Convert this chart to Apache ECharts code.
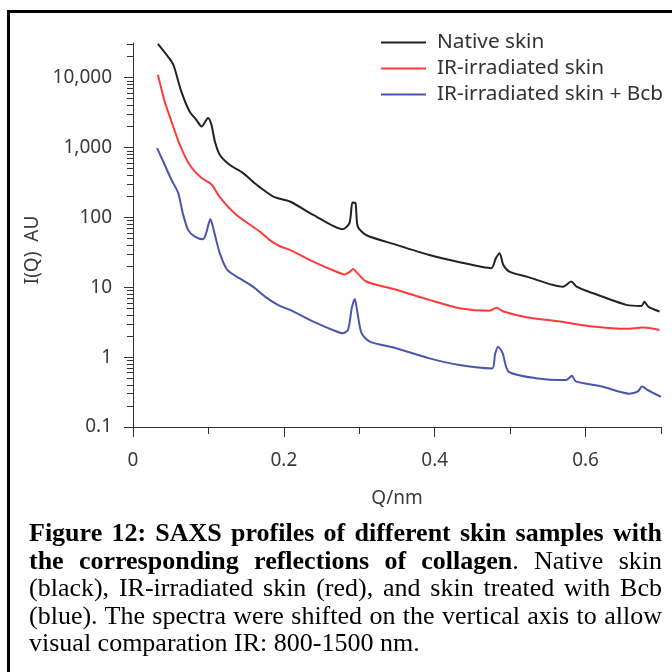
<!DOCTYPE html>
<html>
<head>
<meta charset="utf-8">
<script src="https://cdn.jsdelivr.net/npm/echarts@6/dist/echarts.min.js"></script>
<style>
  html, body { margin: 0; padding: 0; background: #fff; width: 672px; height: 672px; overflow: hidden; }
  #frame { position: absolute; left: 7px; top: 10px; width: 720px; height: 720px;
           border-top: 3px solid #000; border-left: 3px solid #000; }
  #chart { position: absolute; left: 0; top: 0; width: 672px; height: 672px; }
  #caption { position: absolute; left: 29px; top: 519px; width: 633px;
             font-family: "Liberation Serif", "Times New Roman", serif;
             font-size: 26px; line-height: 27.5px; color: #000; }
  #caption div { white-space: nowrap; }
  #caption .j { text-align: justify; text-align-last: justify; }
</style>
</head>
<body>
<div id="frame"></div>
<div id="chart"></div>
<div id="caption">
  <div class="j"><b>Figure 12: SAXS profiles of different skin samples with</b></div>
  <div class="j"><b>the corresponding reflections of collagen</b>. Native skin</div>
  <div class="j">(black), IR-irradiated skin (red), and skin treated with Bcb</div>
  <div class="j">(blue). The spectra were shifted on the vertical axis to allow</div>
  <div>visual comparation IR: 800-1500 nm.</div>
</div>
<script>
// Scattering vector Q (1/nm) and intensity I(Q) for each skin sample
const qNative = [0.033, 0.051, 0.055, 0.064, 0.075, 0.084, 0.091, 0.0995, 0.104, 0.1086, 0.115, 0.128, 0.146, 0.164, 0.186,
                 0.208, 0.239, 0.278, 0.287, 0.291, 0.295, 0.298, 0.309, 0.349, 0.393, 0.433, 0.475, 0.481, 0.486, 0.491,
                 0.499, 0.522, 0.570, 0.581, 0.588, 0.610, 0.654, 0.674, 0.678, 0.683, 0.698];
const iNative = [30400, 17100, 13800, 6370, 3290, 2500, 2000, 2650, 2120, 1220, 789, 567, 431, 293, 199,
                 169, 109, 68, 83, 163, 160, 74, 56, 40.5, 29, 22.9, 18.8, 26, 30.8, 20.9,
                 16.8, 14.2, 10.2, 12.1, 10.2, 8.2, 5.6, 5.4, 6.2, 5.3, 4.5];

const qIR = [0.033, 0.042, 0.051, 0.062, 0.075, 0.091, 0.102, 0.106, 0.115, 0.137, 0.168, 0.181, 0.194, 0.208, 0.239,
             0.269, 0.281, 0.287, 0.292, 0.297, 0.309, 0.349, 0.393, 0.433, 0.473, 0.482, 0.491, 0.522, 0.566,
             0.610, 0.654, 0.676, 0.698];
const iIR = [11000, 4570, 2360, 1100, 567, 366, 310, 280, 195, 109, 62.8, 47.8, 39, 34.3, 23.3,
             16.8, 15.3, 16.5, 18.2, 16.2, 12.1, 9.2, 6.6, 5.0, 4.6, 5.1, 4.5, 3.73, 3.23,
             2.74, 2.54, 2.65, 2.45];

const qBcb = [0.032, 0.042, 0.051, 0.060, 0.066, 0.073, 0.082, 0.093, 0.097, 0.1026, 0.108, 0.115, 0.125, 0.141, 0.159,
              0.175, 0.192, 0.208, 0.239, 0.269, 0.278, 0.285, 0.290, 0.294, 0.297, 0.303, 0.314, 0.349, 0.393,
              0.433, 0.476, 0.480, 0.484, 0.490, 0.498, 0.534, 0.574, 0.582, 0.587, 0.622, 0.658, 0.669, 0.675,
              0.682, 0.700];
const iBcb = [984, 567, 346, 223, 115, 66.4, 53.2, 48.9, 59.6, 94.6, 59.6, 30.8, 17.7, 13.5, 10.2,
              7.36, 5.6, 4.74, 3.23, 2.35, 2.2, 2.45, 5.0, 6.8, 4.74, 2.2, 1.67, 1.34, 0.96,
              0.77, 0.69, 1.1, 1.41, 1.14, 0.62, 0.50, 0.47, 0.54, 0.45, 0.38, 0.30, 0.32, 0.38,
              0.34, 0.27];

const seriesNames = ['Native skin', 'IR-irradiated skin', 'IR-irradiated skin + Bcb'];
const seriesColors = ['#222222', '#ff3a3a', '#4a56ae'];

// Axis ticks and labels
const xMajorTicks = [0, 0.2, 0.4, 0.6];
const xMinorTicks = [0.1, 0.3, 0.5, 0.7];
const yMajorTicks = [0.1, 1, 10, 100, 1000, 10000];
const yMin = 0.1;
const yMax = 31400;
const yMinorTicks = [];
yMajorTicks.forEach(d => {
  for (let k = 2; k <= 9; k++) {
    const v = +(d * k).toPrecision(3);
    if (v <= yMax) yMinorTicks.push(v);
  }
});

const pairs = (xs, ys) => xs.map((x, i) => [x, ys[i]]);

const axisFont = '"Noto Sans", "Open Sans", sans-serif';
const axisColor = '#3a3a3a';
const lineColor = '#333';

const fmtY = v => {
  if (v >= 1) return Math.round(v).toLocaleString('en-US');
  return String(+v.toPrecision(2));
};

const chart = echarts.init(document.getElementById('chart'), null, { renderer: 'canvas' });
chart.setOption({
  animation: false,
  backgroundColor: 'transparent',
  grid: { left: 133, top: 43, right: 11, bottom: 245, containLabel: false },
  legend: {
    orient: 'vertical',
    left: 376,
    top: 27,
    icon: 'rect',
    itemWidth: 45,
    itemHeight: 2,
    itemGap: 5,
    data: seriesNames,
    textStyle: { fontFamily: axisFont, fontSize: 20.8, color: '#333', padding: [0, 0, 0, 6] }
  },
  xAxis: [
    {
      type: 'value', position: 'bottom', min: 0, max: 0.7,
      axisLine: { show: true, lineStyle: { color: lineColor, width: 1 } },
      axisTick: { show: true, customValues: xMajorTicks, length: 10, lineStyle: { color: lineColor, width: 1 } },
      axisLabel: { customValues: xMajorTicks, margin: 24, fontFamily: axisFont, fontSize: 19, color: axisColor,
                   formatter: v => String(+v.toFixed(1)) },
      splitLine: { show: false },
      name: 'Q/nm', nameLocation: 'middle', nameGap: 62,
      nameTextStyle: { fontFamily: axisFont, fontSize: 19, color: axisColor }
    },
    {
      type: 'value', position: 'bottom', min: 0, max: 0.7,
      axisLine: { show: false },
      axisTick: { show: true, customValues: xMinorTicks, length: 7, lineStyle: { color: lineColor, width: 1 } },
      axisLabel: { show: false },
      splitLine: { show: false }
    }
  ],
  yAxis: [
    {
      type: 'log', logBase: 10, position: 'left', min: yMin, max: yMax,
      axisLine: { show: true, lineStyle: { color: lineColor, width: 1 } },
      axisTick: { show: true, customValues: yMajorTicks, length: 9, lineStyle: { color: lineColor, width: 1 } },
      axisLabel: { customValues: yMajorTicks, margin: 21, fontFamily: axisFont, fontSize: 19, color: axisColor,
                   formatter: fmtY },
      splitLine: { show: false },
      name: 'I(Q)  AU', nameLocation: 'middle', nameGap: 91, nameRotate: 90,
      nameTextStyle: { fontFamily: axisFont, fontSize: 19, color: axisColor, padding: [0, 30, 0, 0] }
    },
    {
      type: 'log', logBase: 10, position: 'left', min: yMin, max: yMax,
      axisLine: { show: false },
      axisTick: { show: true, customValues: yMinorTicks, length: 6, lineStyle: { color: lineColor, width: 1 } },
      axisLabel: { show: false },
      splitLine: { show: false }
    }
  ],
  series: [
    { name: seriesNames[0], data: pairs(qNative, iNative), color: seriesColors[0] },
    { name: seriesNames[1], data: pairs(qIR, iIR), color: seriesColors[1] },
    { name: seriesNames[2], data: pairs(qBcb, iBcb), color: seriesColors[2] }
  ].map(s => ({
    type: 'line', name: s.name, data: s.data, xAxisIndex: 0, yAxisIndex: 0,
    showSymbol: false, symbol: 'none', smooth: 0.25,
    lineStyle: { color: s.color, width: 2 }, itemStyle: { color: s.color }
  }))
});
</script>
</body>
</html>
